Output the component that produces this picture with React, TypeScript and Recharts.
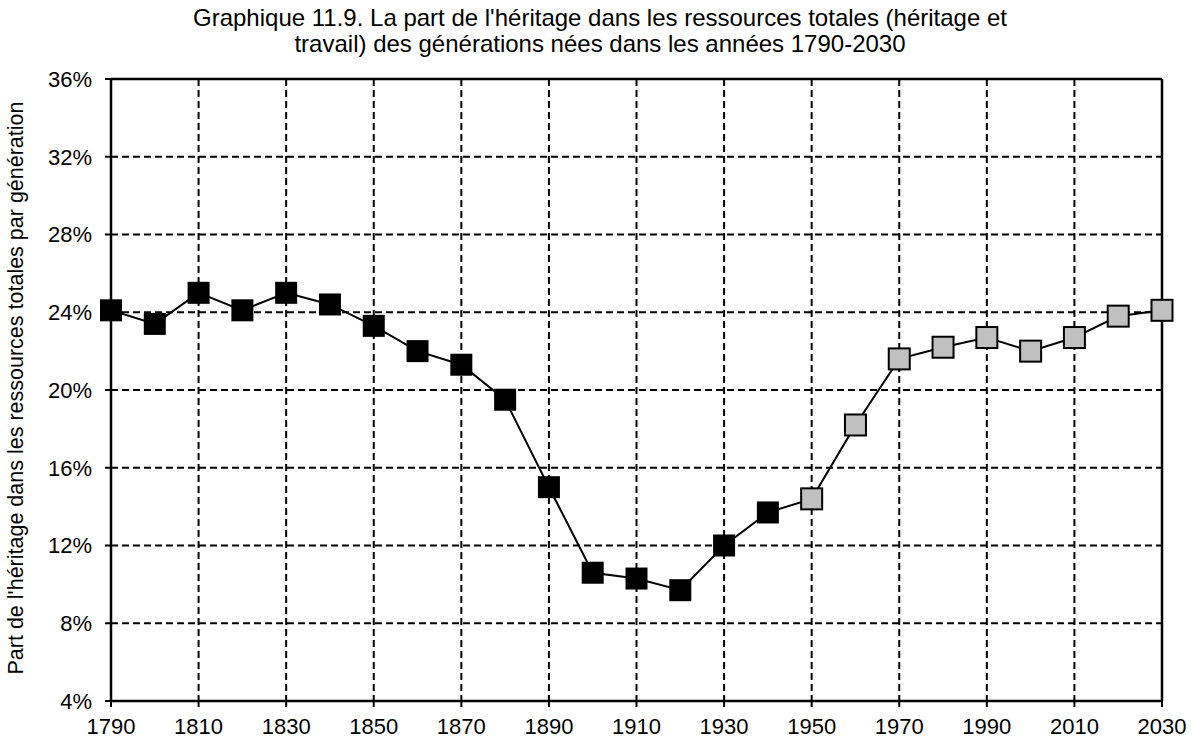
import React from "react";
import {
  LineChart,
  Line,
  XAxis,
  YAxis,
  CartesianGrid,
  ReferenceLine,
} from "recharts";

// années de naissance des générations
const years = [
  1790, 1800, 1810, 1820, 1830, 1840, 1850, 1860, 1870, 1880, 1890, 1900, 1910,
  1920, 1930, 1940, 1950, 1960, 1970, 1980, 1990, 2000, 2010, 2020, 2030,
];

// part de l'héritage dans les ressources totales (%)
const heritageShare = [
  24.1, 23.4, 25.0, 24.1, 25.0, 24.4, 23.3, 22.0, 21.3, 19.5, 15.0, 10.6, 10.3,
  9.7, 12.0, 13.7, 14.4, 18.2, 21.6, 22.2, 22.7, 22.0, 22.7, 23.8, 24.1,
];

// à partir de cette génération : points en gris (simulations)
const firstSimulatedYear = 1950;

const xTicks = [1790, 1810, 1830, 1850, 1870, 1890, 1910, 1930, 1950, 1970, 1990, 2010, 2030];
const yTicks = [4, 8, 12, 16, 20, 24, 28, 32, 36];

const data = years.map((year, i) => ({ year, share: heritageShare[i] }));

const FONT = '"Liberation Sans", Arial, sans-serif';

// marqueur carré, noir ou gris
function SquareDot(props: any) {
  const { cx, cy, payload } = props;
  if (cx == null || cy == null) return null;
  const grey = payload.year >= firstSimulatedYear;
  const s = grey ? 21 : 22;
  return (
    <rect
      key={payload.year}
      x={cx - s / 2}
      y={cy - s / 2}
      width={s}
      height={s}
      fill={grey ? "#c0c0c0" : "#000"}
      stroke="#000"
      strokeWidth={grey ? 2 : 0}
    />
  );
}

export default function App() {
  return (
    <div
      style={{
        position: "absolute",
        left: 0,
        top: 0,
        width: 1192,
        height: 738,
        background: "white",
        fontFamily: FONT,
      }}
    >
      <div
        style={{
          position: "absolute",
          left: 0,
          width: 1200,
          top: 5,
          textAlign: "center",
          fontSize: 24,
          lineHeight: "26px",
          color: "#000",
        }}
      >
        Graphique 11.9. La part de l'héritage dans les ressources totales (héritage et
        <br />
        travail) des générations nées dans les années 1790-2030
      </div>
      <div
        style={{
          position: "absolute",
          left: 16,
          top: 388,
          transform: "translate(-50%, -50%) rotate(-90deg)",
          whiteSpace: "nowrap",
          fontSize: 21.5,
          color: "#000",
        }}
      >
        Part de l'héritage dans les ressources totales par génération
      </div>
      <LineChart
        width={1192}
        height={738}
        data={data}
        margin={{ top: 79, right: 30, bottom: 0, left: 51 }}
      >
        <CartesianGrid stroke="#000" strokeWidth={2} strokeDasharray="7 4" />
        <XAxis
          dataKey="year"
          type="number"
          domain={[1790, 2030]}
          ticks={xTicks}
          height={37}
          tickSize={6}
          tickMargin={11}
          axisLine={{ stroke: "#000", strokeWidth: 2.5 }}
          tickLine={{ stroke: "#000", strokeWidth: 2 }}
          tick={{ fill: "#000", fontSize: 22, fontFamily: FONT }}
        />
        <YAxis
          type="number"
          domain={[4, 36]}
          ticks={yTicks}
          width={60}
          tickSize={6}
          tickMargin={13}
          tickFormatter={(v: number) => `${v}%`}
          axisLine={{ stroke: "#000", strokeWidth: 2.5 }}
          tickLine={{ stroke: "#000", strokeWidth: 2 }}
          tick={{ fill: "#000", fontSize: 22, fontFamily: FONT }}
        />
        <ReferenceLine y={36} stroke="#000" strokeWidth={2.5} />
        <ReferenceLine x={2030} stroke="#000" strokeWidth={2.5} />
        <Line
          dataKey="share"
          stroke="#000"
          strokeWidth={2}
          dot={<SquareDot />}
          activeDot={false}
          isAnimationActive={false}
        />
      </LineChart>
    </div>
  );
}
